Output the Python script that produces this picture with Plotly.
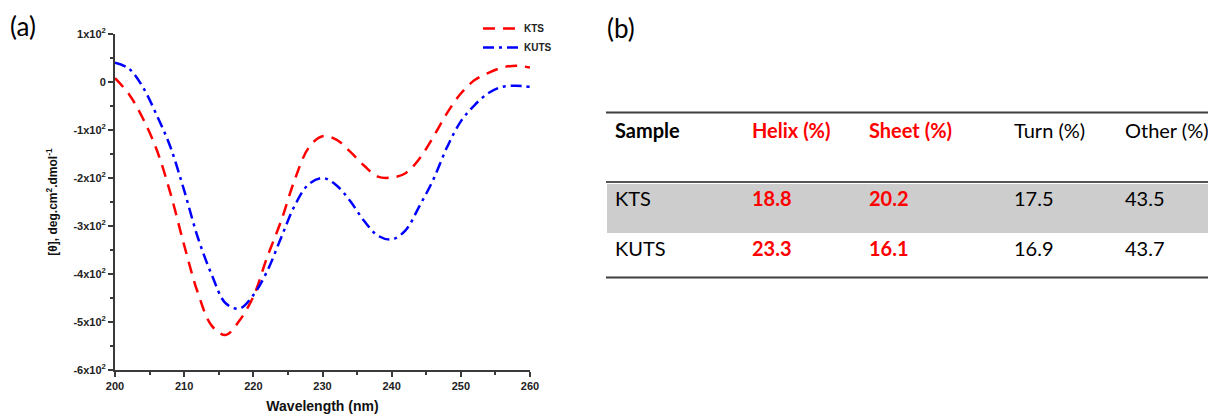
import plotly.graph_objects as go

# ---- CD spectra (panel a) ----
wavelength = list(range(200, 261, 2))
kts = [8, -25, -75, -140, -231, -340, -440, -508, -527, -497,
       -447, -365, -290, -203, -137, -113, -120, -145, -174, -197,
       -199, -190, -160, -115, -65, -24, 4, 19, 30, 34, 30]
kuts = [40, 28, -10, -68, -135, -226, -325, -402, -461, -472,
        -444, -394, -325, -257, -213, -200, -215, -248, -289, -320,
        -328, -309, -259, -204, -136, -82, -48, -23, -10, -8, -10]

y_tickvals = [100, 0, -100, -200, -300, -400, -500, -600]
y_ticktext = ["1x10<sup>2</sup>", "0", "-1x10<sup>2</sup>", "-2x10<sup>2</sup>",
              "-3x10<sup>2</sup>", "-4x10<sup>2</sup>", "-5x10<sup>2</sup>", "-6x10<sup>2</sup>"]
x_tickvals = [200, 210, 220, 230, 240, 250, 260]

# ---- secondary structure table (panel b) ----
samples = ["KTS", "KUTS"]
helix = [18.8, 23.3]
sheet = [20.2, 16.1]
turn = [17.5, 16.9]
other = [43.5, 43.7]
headers = ["Sample", "Helix (%)", "Sheet (%)", "Turn (%)", "Other (%)"]

W, H = 1208, 417
RED = "#ff0000"
BLUE = "#0000ff"
AXIS = "#3a3a3a"
GREY_ROW = "#cdcdcd"
ARIAL = "Liberation Sans, Arial, sans-serif"
CALIBRI = "Lato, Carlito, Calibri, sans-serif"


def px_x(p):
    return p / W


def px_y(p):
    return 1 - p / H


fig = go.Figure()

fig.add_trace(go.Scatter(
    x=wavelength, y=kts, name="KTS", mode="lines",
    line=dict(color=RED, width=2.5, dash="12px,8px", shape="spline", smoothing=1.0),
))
fig.add_trace(go.Scatter(
    x=wavelength, y=kuts, name="KUTS", mode="lines",
    line=dict(color=BLUE, width=2.5, dash="11px,5px,3px,5px", shape="spline", smoothing=1.0),
))

# non-breaking spaces keep each header on one line (wide text is clipped by its column)
header_text = [h.replace(" ", "\u00a0") for h in headers]
col_x = [607, 744, 861, 1006, 1117]
col_w = [col_x[i + 1] - col_x[i] for i in range(len(col_x) - 1)] + [W - col_x[-1]]
col_colors = ["black", RED, RED, "black", "black"]
row_fill = [[GREY_ROW, "white"]] * len(headers)

table_top = 115
header_h = 68
row_h = 50

fig.add_trace(go.Table(
    domain=dict(x=[px_x(col_x[0]), 1.0],
                y=[px_y(table_top + header_h + 2 * row_h + 2), px_y(table_top)]),
    columnwidth=col_w,
    header=dict(
        values=header_text,
        align="left",
        height=header_h,
        fill=dict(color="white"),
        line=dict(color="white", width=1),
        font=dict(family=CALIBRI, size=20, color=col_colors,
                  weight=["bold", "bold", "bold", "normal", "normal"]),
    ),
    cells=dict(
        values=[samples, [f"{v:.1f}" for v in helix], [f"{v:.1f}" for v in sheet],
                [f"{v:.1f}" for v in turn], [f"{v:.1f}" for v in other]],
        align="left",
        height=row_h,
        fill=dict(color=row_fill),
        line=dict(color=row_fill, width=1),
        font=dict(family=CALIBRI, size=20, color=col_colors,
                  weight=["normal", "bold", "bold", "normal", "normal"]),
    ),
))

# Horizontal rules of the table; white band masks the white row below the last rule
shapes = [
    dict(type="rect", xref="paper", yref="paper", layer="above",
         x0=px_x(600), x1=1.0, y0=px_y(300), y1=px_y(278),
         line=dict(width=0), fillcolor="white"),
]
for py, col in [(112.5, "#3f3f3f"), (182, "#555555"), (277.5, "#3f3f3f")]:
    shapes.append(dict(type="line", xref="paper", yref="paper",
                       x0=px_x(606), x1=1.0, y0=px_y(py), y1=px_y(py),
                       line=dict(color=col, width=2)))

annotations = [
    dict(text="(a)", xref="paper", yref="paper", x=px_x(8), y=px_y(26),
         xanchor="left", yanchor="middle", showarrow=False,
         font=dict(family=CALIBRI, size=26, color="black")),
    dict(text="(b)", xref="paper", yref="paper", x=px_x(605), y=px_y(28),
         xanchor="left", yanchor="middle", showarrow=False,
         font=dict(family=CALIBRI, size=26, color="black")),
]

fig.update_layout(
    width=W, height=H,
    margin=dict(l=0, r=0, t=0, b=0, pad=0, autoexpand=False),
    paper_bgcolor="white", plot_bgcolor="white",
    shapes=shapes, annotations=annotations,
    showlegend=True,
    legend=dict(
        x=px_x(478), y=px_y(14), xanchor="left", yanchor="top",
        bgcolor="rgba(0,0,0,0)",
        font=dict(family=ARIAL, size=10, color="#222222", weight="bold"),
        tracegroupgap=0, itemwidth=36,
    ),
    xaxis=dict(
        domain=[px_x(115), px_x(530)],
        range=[200, 260], showgrid=False, zeroline=False, automargin=False,
        showline=True, linecolor=AXIS, linewidth=2,
        ticks="outside", ticklen=5, tickwidth=1.5, tickcolor=AXIS,
        tickvals=x_tickvals,
        tickfont=dict(family=ARIAL, size=11, color="#222222", weight="bold"),
        minor=dict(ticks="outside", ticklen=3, tickwidth=1.5, tickcolor=AXIS, dtick=5),
        title=dict(text="Wavelength (nm)", standoff=10,
                   font=dict(family=ARIAL, size=14, color="#111111", weight="bold")),
    ),
    yaxis=dict(
        domain=[px_y(370), px_y(34)],
        range=[-600, 100], showgrid=False, zeroline=False, automargin=False,
        showline=True, linecolor=AXIS, linewidth=2,
        ticks="outside", ticklen=5, tickwidth=1.5, tickcolor=AXIS,
        tickvals=y_tickvals, ticktext=y_ticktext,
        tickfont=dict(family=ARIAL, size=11, color="#222222", weight="bold"),
        minor=dict(ticks="outside", ticklen=3, tickwidth=1.5, tickcolor=AXIS, dtick=50),
        title=dict(text="[θ], deg.cm<sup>2</sup>.dmol<sup>-1</sup>", standoff=13,
                   font=dict(family=ARIAL, size=12, color="#111111", weight="bold")),
    ),
)

fig.write_html("out.html")
